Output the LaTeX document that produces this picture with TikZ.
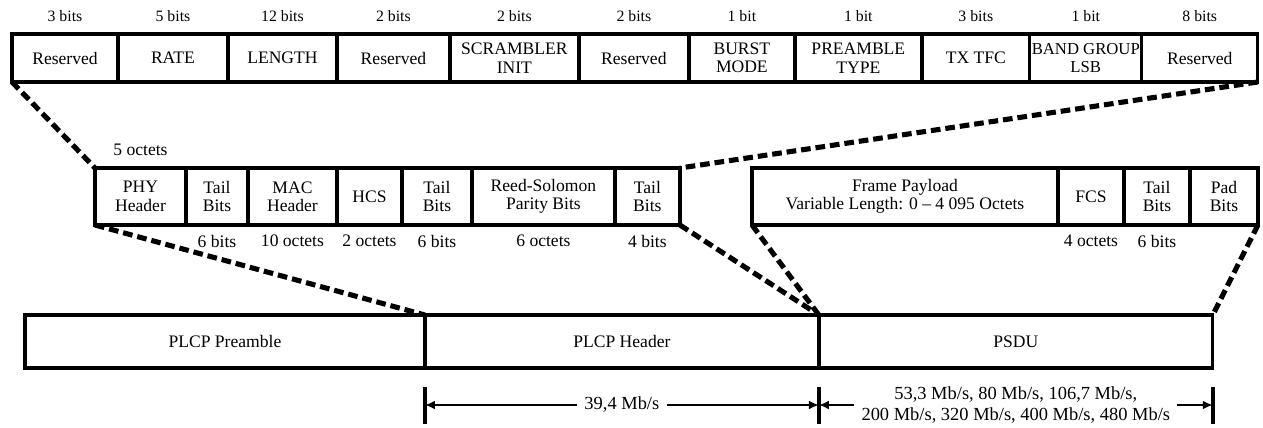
\documentclass[tikz,border=0pt]{standalone}
\usepackage{fontspec}
\setmainfont{Liberation Serif}
\usepackage{tikz}
\usetikzlibrary{arrows.meta,positioning,calc}
\tikzstyle{field} = [rectangle, draw=black, line width=1.9pt, inner sep=1pt, outer sep=0pt,
    align=center, font=\fontsize{10}{10.5}\selectfont]
\tikzstyle{topfield} = [field, minimum height=0.96cm]
\tikzstyle{midfield} = [field, minimum height=1.14cm]
\tikzstyle{ppdu} = [field, minimum height=1.06cm]
\tikzstyle{bitlabel} = [inner sep=0pt, font=\fontsize{9}{10}\selectfont]
\tikzstyle{sizelabel} = [inner sep=0pt, font=\fontsize{10}{11}\selectfont]
\tikzstyle{zoomline} = [line width=2.9pt, dash pattern=on 5.5pt off 2.8pt]
\tikzstyle{dimarrow} = [-{Latex[length=2mm,width=1.8mm]}, line width=1.3pt]
\tikzstyle{dimtick} = [line width=2pt]
\tikzstyle{ratelabel} = [inner sep=4pt, align=center, font=\fontsize{10.5}{11.5}\selectfont]

\begin{document}
\begin{tikzpicture}[x=0.02cm, y=-0.02cm]
\useasboundingbox (0,0) rectangle (1263,427);
\coordinate (bitrow) at (0,16);
\coordinate (octrow) at (0,241);
\coordinate (phyrow) at (0,150);
\coordinate (dimtop) at (0,387);
\coordinate (dimmid) at (0,405);
\coordinate (dimbot) at (0,424);

% PLCP header bits
\node[topfield, minimum width=2.12cm, anchor=west] (res1) at (12,58) {Reserved};
\node[topfield, minimum width=2.20cm, right=0pt of res1] (rate) {RATE};
\node[topfield, minimum width=2.18cm, right=0pt of rate] (length) {LENGTH};
\node[topfield, minimum width=2.26cm, right=0pt of length] (res2) {Reserved};
\node[topfield, minimum width=2.58cm, right=0pt of res2] (scr) {SCRAMBLER\\INIT};
\node[topfield, minimum width=2.20cm, right=0pt of scr] (res3) {Reserved};
\node[topfield, minimum width=2.12cm, right=0pt of res3] (burst) {BURST\\MODE};
\node[topfield, minimum width=2.54cm, right=0pt of burst] (pretype) {PREAMBLE\\TYPE};
\node[topfield, minimum width=2.16cm, right=0pt of pretype] (txtfc) {TX TFC};
\node[topfield, minimum width=2.24cm, right=0pt of txtfc, font=\fontsize{9.5}{10.5}\selectfont] (bglsb) {BAND GROUP\\LSB};
\node[topfield, minimum width=2.32cm, right=0pt of bglsb] (res4) {Reserved};

\node[bitlabel] (lres1) at (res1.center |- bitrow) {3 bits};
\node[bitlabel] (lrate) at (rate.center |- bitrow) {5 bits};
\node[bitlabel] (llength) at (length.center |- bitrow) {12 bits};
\node[bitlabel] (lres2) at (res2.center |- bitrow) {2 bits};
\node[bitlabel] (lscr) at (scr.center |- bitrow) {2 bits};
\node[bitlabel] (lres3) at (res3.center |- bitrow) {2 bits};
\node[bitlabel] (lburst) at (burst.center |- bitrow) {1 bit};
\node[bitlabel] (lpretype) at (pretype.center |- bitrow) {1 bit};
\node[bitlabel] (ltxtfc) at (txtfc.center |- bitrow) {3 bits};
\node[bitlabel] (lbglsb) at (bglsb.center |- bitrow) {1 bit};
\node[bitlabel] (lres4) at (res4.center |- bitrow) {8 bits};

% PLCP header fields
\node[midfield, minimum width=1.82cm, anchor=west] (phy) at (95,196.5) {PHY\\Header};
\node[midfield, minimum width=1.24cm, right=0pt of phy] (tail1) {Tail\\Bits};
\node[midfield, minimum width=1.78cm, right=0pt of tail1] (mac) {MAC\\Header};
\node[midfield, minimum width=1.30cm, right=0pt of mac] (hcs) {HCS};
\node[midfield, minimum width=1.40cm, right=0pt of hcs] (tail2) {Tail\\Bits};
\node[midfield, minimum width=2.86cm, right=0pt of tail2] (rs) {Reed-Solomon\\Parity Bits};
\node[midfield, minimum width=1.30cm, right=0pt of rs] (tail3) {Tail\\Bits};

% PSDU fields
\node[midfield, minimum width=6.12cm, anchor=west] (payload) at (752,196.5) {Frame Payload\\Variable Length: 0 -- 4 095 Octets};
\node[midfield, minimum width=1.32cm, right=0pt of payload] (fcs) {FCS};
\node[midfield, minimum width=1.32cm, right=0pt of fcs] (tail4) {Tail\\Bits};
\node[midfield, minimum width=1.36cm, right=0pt of tail4] (pad) {Pad\\Bits};

\node[sizelabel] (lphy) at (phy.center |- phyrow) {5 octets};
\node[sizelabel] (ltail1) at (tail1.center |- octrow) {6 bits};
\node[sizelabel] (lmac) at (mac.center |- octrow) {10 octets};
\node[sizelabel] (lhcs) at (hcs.center |- octrow) {2 octets};
\node[sizelabel] (ltail2) at (tail2.center |- octrow) {6 bits};
\node[sizelabel] (lrs) at (rs.center |- octrow) {6 octets};
\node[sizelabel] (ltail3) at (tail3.center |- octrow) {4 bits};
\node[sizelabel] (lfcs) at (fcs.center |- octrow) {4 octets};
\node[sizelabel] (ltail4) at (tail4.center |- octrow) {6 bits};

% PPDU
\node[ppdu, minimum width=8.00cm, anchor=west] (pre) at (25,341.5) {PLCP Preamble};
\node[ppdu, minimum width=7.88cm, right=0pt of pre] (hdr) {PLCP Header};
\node[ppdu, minimum width=7.88cm, right=0pt of hdr] (psdu) {PSDU};

\draw[zoomline] (res1.south west) -- (phy.north west);
\draw[zoomline] (res4.south east) -- (tail3.north east);
\draw[zoomline] (phy.south west) -- (hdr.north west);
\draw[zoomline] (tail3.south east) -- (hdr.north east);
\draw[zoomline] (payload.south west) -- (psdu.north west);
\draw[zoomline] (pad.south east) -- (psdu.north east);

% data rates
\draw[dimtick] (hdr.south west |- dimtop) -- (hdr.south west |- dimbot);
\draw[dimtick] (psdu.south west |- dimtop) -- (psdu.south west |- dimbot);
\draw[dimtick] (psdu.south east |- dimtop) -- (psdu.south east |- dimbot);
\node[ratelabel] (rhdr) at (hdr.center |- dimmid) {39,4 Mb/s};
\node[ratelabel] (rpsdu) at (psdu.center |- dimmid) {53,3 Mb/s, 80 Mb/s, 106,7 Mb/s,\\200 Mb/s, 320 Mb/s, 400 Mb/s, 480 Mb/s};
\draw[dimarrow] (rhdr.west) -- (hdr.south west |- rhdr.west);
\draw[dimarrow] (rhdr.east) -- (hdr.south east |- rhdr.east);
\draw[dimarrow] (rpsdu.west) -- (psdu.south west |- rpsdu.west);
\draw[dimarrow] (rpsdu.east) -- (psdu.south east |- rpsdu.east);
\end{tikzpicture}
\end{document}
